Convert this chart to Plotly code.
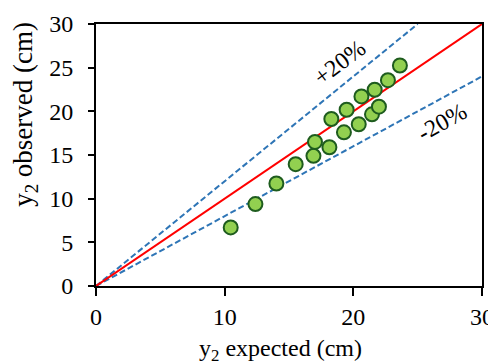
import plotly.graph_objects as go

# data
y2_expected = [10.47, 12.39, 14.02, 15.52, 16.90, 17.02, 18.14, 18.29, 19.27,
               19.48, 20.42, 20.63, 21.45, 21.66, 21.99, 22.69, 23.62]
y2_observed = [6.71, 9.38, 11.74, 13.95, 14.90, 16.50, 15.89, 19.12, 17.60,
               20.18, 18.52, 21.71, 19.66, 22.47, 20.53, 23.57, 25.25]
line_x = [0, 30]
line_1to1 = [0, 30]
plus20_x = [0, 25]
plus20_y = [0, 30]
minus20_x = [0, 30]
minus20_y = [0, 24]
x_ticks = [0, 10, 20, 30]
y_ticks = [0, 5, 10, 15, 20, 25, 30]

FONT = "Liberation Serif, serif"
BLUE = "#2E75B6"

fig = go.Figure()
fig.add_trace(go.Scatter(x=plus20_x, y=plus20_y, mode="lines",
                         line=dict(color=BLUE, width=2, dash="6px,3px"),
                         showlegend=False, hoverinfo="skip"))
fig.add_trace(go.Scatter(x=minus20_x, y=minus20_y, mode="lines",
                         line=dict(color=BLUE, width=2, dash="6px,3px"),
                         showlegend=False, hoverinfo="skip"))
fig.add_trace(go.Scatter(x=line_x, y=line_1to1, mode="lines",
                         line=dict(color="#FF0000", width=2),
                         showlegend=False, hoverinfo="skip"))
fig.add_trace(go.Scatter(x=y2_expected, y=y2_observed, mode="markers",
                         marker=dict(size=14, color="#92D050",
                                     line=dict(color="#1E5C1E", width=2)),
                         showlegend=False))

axis_common = dict(showline=True, linecolor="black", linewidth=2, mirror=True,
                   showgrid=False, zeroline=False, ticks="outside",
                   tickcolor="black", tickwidth=2, automargin=False,
                   tickfont=dict(family=FONT, size=24, color="black"))

fig.update_xaxes(range=[0, 30], tickvals=x_ticks, ticklen=8, **axis_common)
fig.update_yaxes(range=[0, 30], tickvals=y_ticks, ticklen=6,
                 ticklabelstandoff=10, **axis_common)

fig.add_annotation(text="y<sub>2</sub> expected (cm)", xref="paper", yref="paper",
                   x=0.477, y=-0.246, xanchor="center", yanchor="middle",
                   showarrow=False,
                   font=dict(family=FONT, size=24, color="black"))
fig.add_annotation(text="y<sub>2</sub> observed (cm)", xref="paper", yref="paper",
                   x=-0.184, y=0.657, xanchor="center", yanchor="middle",
                   textangle=-90, showarrow=False,
                   font=dict(family=FONT, size=27, color="black"))
fig.add_annotation(text="+20%", x=19.0, y=25.6, textangle=-37, showarrow=False,
                   font=dict(family=FONT, size=24, color="black"))
fig.add_annotation(text="-20%", x=26.9, y=18.8, textangle=-29, showarrow=False,
                   font=dict(family=FONT, size=24, color="black"))

fig.update_layout(width=496, height=363,
                  margin=dict(l=88, r=22, t=16, b=84.5),
                  plot_bgcolor="white", paper_bgcolor="white",
                  font=dict(family=FONT, color="black"))

fig.write_html("out.html")
